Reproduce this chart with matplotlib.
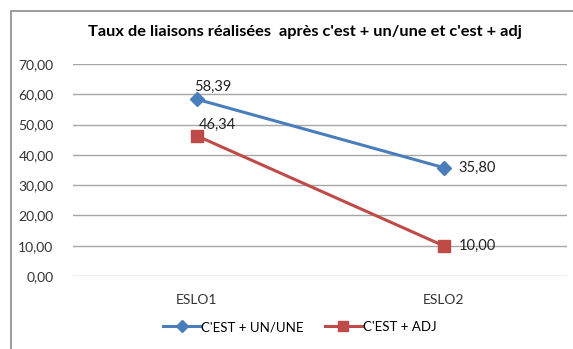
import matplotlib.pyplot as plt
from matplotlib.patches import Rectangle
from matplotlib.lines import Line2D

plt.rcParams['font.family'] = ['Lato', 'DejaVu Sans']

# Données
corpus = ["ESLO1", "ESLO2"]
taux_un_une = [58.39, 35.80]
taux_adj = [46.34, 10.00]
series = ["C'EST + UN/UNE", "C'EST + ADJ"]
titre = "Taux de liaisons réalisées  après c'est + un/une et c'est + adj"

bleu = "#4A7EBB"
rouge = "#BE4B48"

W, H = 573, 349
fig = plt.figure(figsize=(W / 100, H / 100), dpi=100)

# Cadre du graphique
fig.patches.append(Rectangle((11 / W, -0.1), 1.2, (H - 11) / H + 0.1,
                             transform=fig.transFigure, fill=False,
                             edgecolor="#8C8C8C", linewidth=1.2))

ax = fig.add_axes([73 / W, (H - 276) / H, (567 - 73) / W, (276 - 64) / H])
x = range(len(corpus))

ax.plot(x, taux_un_une, color=bleu, linewidth=2.2, marker="D", markersize=7,
        label=series[0], zorder=3)
ax.plot(x, taux_adj, color=rouge, linewidth=2.2, marker="s", markersize=8,
        label=series[1], zorder=3)

fmt = lambda v: f"{v:.2f}".replace(".", ",")
ax.annotate(fmt(taux_un_une[0]), (0, taux_un_une[0]), xytext=(-2, 6),
            textcoords="offset points", fontsize=10.5, color="#222222")
ax.annotate(fmt(taux_adj[0]), (0, taux_adj[0]), xytext=(2, 5),
            textcoords="offset points", fontsize=10.5, color="#222222")
ax.annotate(fmt(taux_un_une[1]), (1, taux_un_une[1]), xytext=(11, 0),
            textcoords="offset points", fontsize=10.5, va="center", color="#222222")
ax.annotate(fmt(taux_adj[1]), (1, taux_adj[1]), xytext=(11, 0),
            textcoords="offset points", fontsize=10.5, va="center", color="#222222")

ax.set_xlim(-0.5, 1.5)
ax.set_ylim(0, 70)
ax.set_yticks(range(0, 71, 10))
ax.set_yticklabels([fmt(v) for v in range(0, 71, 10)], fontsize=10, color="#333333")
ax.set_xticks(list(x))
ax.set_xticklabels(corpus, fontsize=10, color="#333333")
ax.tick_params(axis="y", length=0, pad=14)
ax.tick_params(axis="x", length=0, pad=13)
ax.grid(axis="y", color="#A6A6A6", linewidth=1)
ax.set_axisbelow(True)
for s in ax.spines.values():
    s.set_visible(False)

fig.text(305 / W, 1 - 32 / H, titre, ha="center", va="center",
         fontsize=11.8, fontweight="bold")

handles = [Line2D([], [], color=bleu, linewidth=2.2, marker="D", markersize=6),
           Line2D([], [], color=rouge, linewidth=2.2, marker="s", markersize=7)]
fig.legend(handles, series, loc="center", bbox_to_anchor=(300 / W, 1 - 327 / H),
           ncol=2, frameon=False, fontsize=9.5, handlelength=2.8,
           handletextpad=0.1, columnspacing=1.6)

fig.savefig("out.png", dpi=100)
